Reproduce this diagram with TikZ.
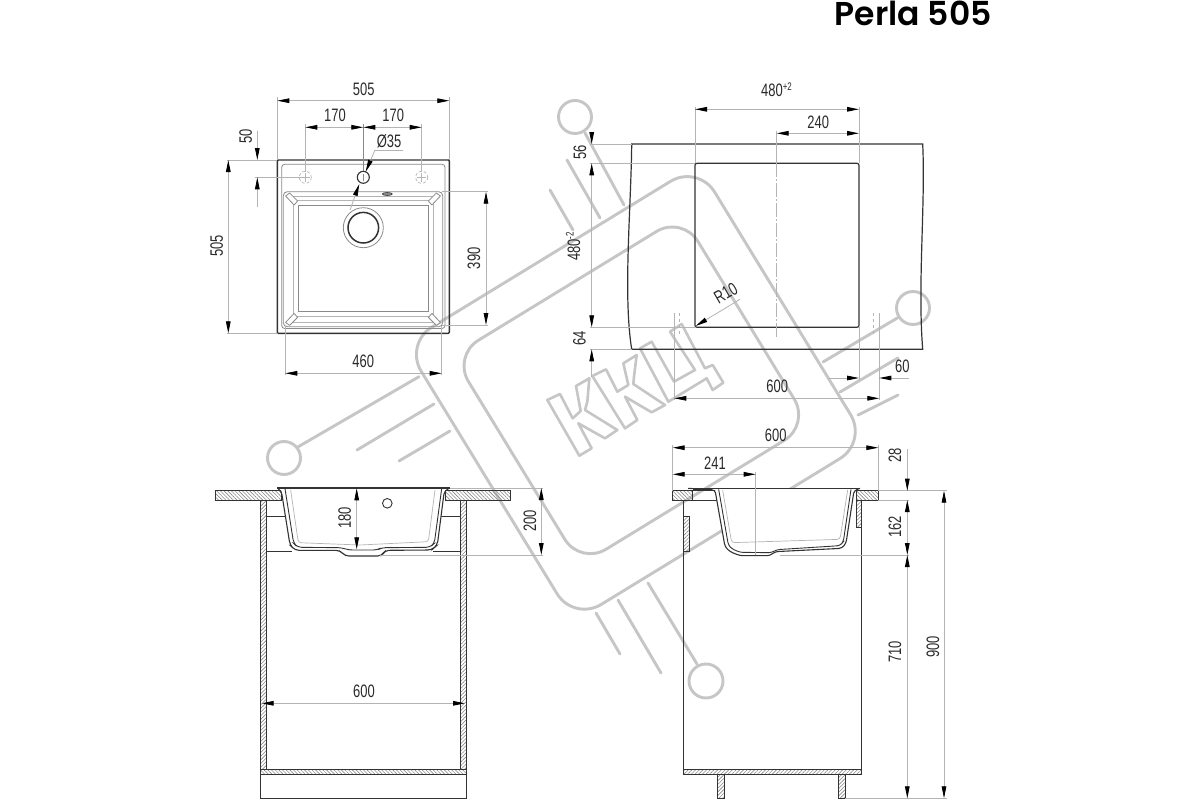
\documentclass[tikz,border=0pt]{standalone}
\usepackage{fontspec}
\usetikzlibrary{arrows.meta,patterns.meta}
\setmainfont{Liberation Sans}
\newfontfamily\dimf[FakeStretch=0.72]{Liberation Sans}
\newfontfamily\titf{Poppins SemiBold}
\definecolor{wmc}{HTML}{C6C6C6}
\definecolor{dimc}{HTML}{B4B4B4}
\definecolor{drk}{HTML}{333333}
\definecolor{mid}{HTML}{8A8A8A}
\definecolor{txtc}{HTML}{2A2A2A}
\tikzset{
 wm/.style={draw=wmc,line width=2.9pt},
 wmline/.style={wm,line cap=round},
 dimln/.style={draw=dimc,line width=0.8pt},
 tipp/.tip={Triangle[length=12pt,width=4.6pt,color=black,fill=black]},
 dimboth/.style={dimln,{tipp}-{tipp}},
 dimto/.style={dimln,-{tipp}},
 lbl/.style={font=\dimf\fontsize{18}{20}\selectfont,text=txtc,inner sep=0pt},
 lblv/.style={lbl,rotate=90},
 outl/.style={draw=drk,line width=1.1pt},
 thin2/.style={draw=mid,line width=0.8pt},
 faint/.style={draw=dimc,line width=0.7pt},
 hatchS/.style={outl,line width=0.9pt,pattern={Lines[angle=-45,distance=2.6pt,line width=0.6pt]},pattern color=mid},
 hatchW/.style={outl,line width=0.9pt,pattern={Lines[angle=45,distance=2.6pt,line width=0.6pt]},pattern color=mid},
 zoomA/.style={xshift=200pt,yshift=-470pt,x=0.33333pt,y=-0.33333pt},
 zoomB/.style={xshift=660pt,yshift=-420pt,x=0.33333pt,y=-0.33333pt},
 zoomC/.style={xshift=530pt,yshift=-310pt,x=0.33333pt,y=-0.33333pt},
 rotW/.style={x={(0.853pt,0.521pt)},y={(0.521pt,-0.853pt)}}
}
\begin{document}
\begin{tikzpicture}[x=1pt,y=-1pt]
\useasboundingbox (0,0) rectangle (1200,800);
\fill[white] (0,0) rectangle (1200,800);
% ===== watermark =====
\begin{scope}[rotW]
\draw[wm,rounded corners=32pt] (166,504.5)--(510,504.5)--(510,829.6)--(166,829.6)--cycle;
\draw[wm,rounded corners=30pt] (201,540)--(470,540)--(470,785)--(201,785)--cycle;
\end{scope}
\begin{scope}[zoomC]
\draw[wm,line join=round,line width=2.6pt] (52,270)--(90,252)--(128,325)--(152,303)--(138,228)--(178,205)--(172,275)--(165,300)--(262,360)--(225,385)--(145,340)--(185,415)--(148,437)--cycle;
\draw[wm,line join=round,line width=2.6pt] (187,198)--(228,178)--(262,245)--(295,225)--(280,160)--(320,135)--(312,200)--(310,222)--(405,285)--(365,307)--(285,260)--(322,330)--(285,355)--cycle;
\draw[wm,line join=round,line width=2.6pt] (330,115)--(365,95)--(432,215)--(495,180)--(420,65)--(455,42)--(525,175)--(548,165)--(580,218)--(548,240)--(530,205)--(415,275)--cycle;
\end{scope}
\draw[wm] (575,117) circle[radius=16.5];
\draw[wm] (913,308) circle[radius=16.5];
\draw[wm] (284,458) circle[radius=16.5];
\draw[wm] (706,681) circle[radius=17];
\draw[wmline] (585,133)--(624,205);
\draw[wmline] (567,160)--(600,218);
\draw[wmline] (550,190)--(573,230);
\draw[wmline] (899,317)--(823,362);
\draw[wmline] (840,392)--(898,358);
\draw[wmline] (858,415)--(898,395);
\draw[wmline] (298.3,446.7)--(419,376.7);
\draw[wmline] (357,450)--(434,404);
\draw[wmline] (399,461)--(450,431);
\draw[wmline] (697,664)--(648,583);
\draw[wmline] (618,600)--(661,673);
\draw[wmline] (596,613)--(620,654);
% ===== title =====
\node[anchor=base east,inner sep=0pt,font=\titf\fontsize{33}{35}\selectfont,text=black] (title) at (992,25.5) {Perla 505};
% ===== view 1: plan of the sink =====
\draw[outl,line width=1.4pt,rounded corners=1pt] (277.3,160) rectangle (449.3,333.3);
\draw[thin2,rounded corners=3pt] (281.7,164.3) rectangle (445,328.5);
\draw[thin2,rounded corners=4pt] (283.3,191.7) rectangle (442.7,326.7);
\draw[faint] (293.3,200.7) rectangle (433.3,316.7);
\draw[thin2] (298.3,205) rectangle (428.3,311.7);
\draw[faint] (287,322)--(439,322);
\draw[faint] (288,196)--(438,196);
\foreach \cx/\cy/\sx/\sy in {283.6/192/1/1,442.4/192/-1/1,283.6/326.4/1/-1,442.4/326.4/-1/-1}{
 \draw[thin2,fill=white,line join=round] (\cx+2*\sx,\cy+4*\sy)--(\cx+6*\sx,\cy+1*\sy)--(\cx+14*\sx,\cy+9*\sy)--(\cx+10.5*\sx,\cy+13*\sy)--cycle;
}
\draw[dimc,line width=0.7pt,densely dashed] (305.3,177.3) circle[radius=6];
\draw[dimc,line width=0.7pt,densely dashed] (421.7,177.3) circle[radius=6];
\draw[dimc,line width=0.5pt] (301,177.3)--(310,177.3) (305.3,173)--(305.3,182);
\draw[dimc,line width=0.5pt] (417,177.3)--(426,177.3) (421.7,173)--(421.7,182);
\draw[outl] (363.3,177.3) circle[radius=6];
\draw[mid,line width=0.5pt] (363.3,174)--(363.3,180.5);
\draw[thin2] (363.3,227.7) circle[radius=20];
\draw[outl,line width=1.5pt] (363.3,227.7) circle[radius=15.3];
\draw[outl,fill=mid,line width=0.6pt] (387.3,194) ellipse[x radius=5,y radius=1.5];
% dims view 1
\draw[faint] (277.3,97)--(277.3,160) (449.3,97)--(449.3,160);
\draw[dimboth] (277.3,100.7)--(449.3,100.7);
\node[lbl] (t505a) at (363.7,89) {505};
\draw[faint] (305.3,124)--(305.3,172) (421.7,124)--(421.7,172);
\draw[thin2] (363.3,124)--(363.3,171);
\draw[dimboth] (305.3,127.3)--(363.3,127.3);
\draw[dimboth] (363.3,127.3)--(421.7,127.3);
\node[lbl] (t170a) at (335,115.7) {170};
\node[lbl] (t170b) at (393.3,115.7) {170};
\node[lbl] (t35) at (389,141.3) {Ø35};
\draw[dimln] (402.7,150)--(375,150);
\draw[dimto] (375,150)--(365.7,171.7);
\draw[dimto] (350,210)--(359.3,184);
\draw[faint] (226.7,160)--(277.3,160) (255,177.3)--(305,177.3) (226.7,333.3)--(277.3,333.3);
\draw[dimto] (257.3,131)--(257.3,160);
\draw[dimto] (257.3,207.3)--(257.3,177.3);
\node[lblv] (t50) at (245.7,136.7) {50};
\draw[dimboth] (228.3,160)--(228.3,333.3);
\node[lblv] (t505b) at (216.7,245.7) {505};
\draw[faint] (442,191.7)--(488,191.7) (442,325)--(488,325);
\draw[dimboth] (486,191.7)--(486,325);
\node[lblv] (t390) at (474,258.3) {390};
\draw[faint] (285.3,326)--(285.3,375) (441.7,326)--(441.7,375);
\draw[dimboth] (285.3,373.3)--(441.7,373.3);
\node[lbl] (t460) at (363.3,361.7) {460};
% ===== view 2: cut-out =====
\draw[outl,line width=1.2pt] (631.7,144)--(922.7,144) .. controls (925.5,205) and (917.5,285) .. (922.7,349.3)--(631.7,349.3) .. controls (623,295) and (631,210) .. cycle;
\draw[outl,line width=1.2pt,rounded corners=2pt] (695,163.3) rectangle (859,327.3);
\draw[faint] (695,107)--(695,163) (859,107)--(859,163);
\draw[dimboth] (695,109.3)--(859,109.3);
\node[lbl,anchor=base west] (t480a) at (761,96.7) {480\raisebox{6.5pt}{\fontsize{11}{11}\selectfont +2}};
\draw[faint] (776.7,131)--(776.7,163);
\draw[faint,dash pattern=on 14pt off 2pt on 2pt off 2pt] (776.7,163)--(776.7,337);
\draw[dimboth] (776.7,133.3)--(859,133.3);
\node[lbl] (t240) at (818.3,122.3) {240};
\draw[faint] (590,144)--(632,144) (590,163.3)--(695,163.3) (590,327.3)--(695,327.3) (590,349.3)--(632,349.3);
\draw[dimln] (591.7,176)--(591.7,315);
\draw[dimto] (591.7,131.7)--(591.7,144);
\draw[dimto] (591.7,176)--(591.7,163.3);
\draw[dimto] (591.7,315)--(591.7,327.3);
\draw[dimto] (591.7,377)--(591.7,349.3);
\node[lblv] (t56) at (580,152.7) {56};
\node[lblv] (t64) at (579.3,338.3) {64};
\node[lblv,anchor=base west] (t480b) at (580,261) {480\raisebox{6.5pt}{\fontsize{11}{11}\selectfont -2}};
\node[lbl,rotate=30] (tr10) at (725.7,293.3) {R10};
\draw[dimto] (740,299.3)--(695.7,326);
\draw[faint,dashed] (679.3,313)--(679.3,337) (873.3,313)--(873.3,337);
\draw[faint] (674.3,313)--(674.3,400) (879.3,313)--(879.3,400);
\draw[faint] (859,327)--(859,380);
\draw[dimboth] (674.3,398.3)--(879.3,398.3);
\node[lbl] (t600a) at (777.3,386.7) {600};
\draw[dimto] (828,378)--(859,378);
\draw[dimto] (909,378)--(879.3,378);
\node[lbl] (t60) at (902.3,366) {60};
% ===== view 3: front section =====
\draw[hatchS] (215,490.7) rectangle (281.7,500.7);
\draw[hatchS] (445,490.7) rectangle (510,500.7);
\draw[hatchW] (260.7,500.7) rectangle (266,769);
\draw[hatchW] (460.7,500.7) rectangle (466.3,769);
\draw[hatchS] (260.7,769) rectangle (466.3,774.3);
\draw[outl] (260.7,774.3) rectangle (466.3,798.7);
\draw[outl,line width=0.9pt] (266,516.7)--(287,516.7) (440,516.7)--(460.7,516.7);
\draw[outl,line width=0.9pt] (266,551)--(292,551) (433,551)--(460.7,551);
\begin{scope}[zoomA]
\fill[white] (232,55)--(244,62)--(270,225)--(285,241)--(420,241)--(435,258)--(545,258)--(555,241)--(695,240)--(712,225)--(733,62)--(750,55)--cycle;
\draw[faint,rounded corners=3pt] (705,60)--(685,215)--(480,225)--(295,218)--(272,60);
\draw[outl,rounded corners=4pt] (232,54)--(244,62)--(270,225)--(285,241)--(420,241)--(435,258)--(545,258)--(555,241)--(695,240)--(712,225)--(733,62)--(750,54);
\draw[outl,line width=0.9pt,rounded corners=4pt] (255,56)--(281,220)--(293,232)--(425,233)--(445,240)--(532,240)--(545,233)--(690,232)--(703,220)--(725,56);
\draw[outl,line width=1.4pt] (232,54)--(750,54);
\end{scope}
\draw[outl,line width=0.9pt] (387.3,503.3) circle[radius=4.8];
\draw[dimboth] (356.7,488.3)--(356.7,549.3);
\node[lblv] (t180) at (344.7,517.7) {180};
\draw[faint] (450,488)--(543,488) (380,555)--(543,555);
\draw[dimboth] (541.3,488)--(541.3,555);
\node[lblv] (t200) at (530,520.7) {200};
\draw[dimboth] (261.7,703.3)--(465,703.3);
\node[lbl] (t600b) at (364,691.7) {600};
% ===== view 4: side section =====
\draw[hatchS] (672.7,490.7) rectangle (692.3,500);
\draw[outl,line width=0.9pt] (692.3,490.7) rectangle (716,500);
\draw[hatchS] (856.7,490.7) rectangle (878.3,500);
\draw[outl] (683.3,500)--(683.3,769) (861.7,500)--(861.7,769);
\draw[hatchW] (683.3,516.7) rectangle (689.3,551.7);
\draw[hatchW] (856,500) rectangle (861.7,527.3);
\draw[hatchW] (683.3,769) rectangle (861.7,774.7);
\draw[hatchW] (717.3,774.7) rectangle (724,798.7);
\draw[hatchW] (838.7,774.7) rectangle (845,798.7);
\begin{scope}[zoomB]
\fill[white] (165,207)--(195,380)--(210,395)--(240,407)--(330,407)--(345,395)--(545,385)--(558,370)--(582,207)--cycle;
\draw[faint,rounded corners=3pt] (188,210)--(215,368)--(540,358)--(563,210);
\draw[outl,rounded corners=3pt] (85,205)--(165,210)--(195,380)--(210,395)--(240,407)--(330,407)--(345,395)--(545,385)--(558,370)--(582,212)--(600,205);
\draw[outl,line width=0.9pt,rounded corners=3pt] (176,208)--(205,375)--(215,386)--(240,397)--(335,398)--(350,389)--(540,377)--(550,365)--(573,208);
\draw[outl,line width=1.4pt] (85,205)--(600,205);
\draw[outl,line width=1.4pt] (100,210)--(155,210);
\end{scope}
\draw[faint] (672.7,445)--(672.7,490.7) (878.3,445)--(878.3,490.7);
\draw[dimboth] (672.7,447.7)--(878.3,447.7);
\node[lbl] (t600c) at (775.7,435.7) {600};
\draw[faint] (755.7,472)--(755.7,555);
\draw[dimboth] (672.7,474.3)--(755.7,474.3);
\node[lbl] (t241) at (715,463.3) {241};
\draw[faint] (878,490.7)--(946.7,490.7) (878,500)--(909,500) (780,555)--(909,555) (845,798.7)--(946.7,798.7);
\draw[dimln] (907.3,449)--(907.3,490.7);
\draw[dimto] (907.3,478)--(907.3,490.7);
\draw[dimln] (907.3,512.7)--(907.3,542.7);
\draw[dimto] (907.3,512.7)--(907.3,500);
\draw[dimto] (907.3,542.7)--(907.3,555);
\draw[dimboth] (907.3,798.3)--(907.3,555);
\draw[dimboth] (944,490.7)--(944,798.3);
\node[lblv] (t28) at (895,455) {28};
\node[lblv] (t162) at (895,526.7) {162};
\node[lblv] (t710) at (895,652) {710};
\node[lblv] (t900) at (933,647) {900};
\end{tikzpicture}
\end{document}
